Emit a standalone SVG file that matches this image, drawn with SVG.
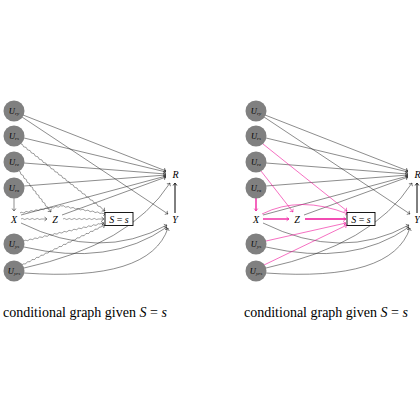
<svg xmlns="http://www.w3.org/2000/svg" width="420" height="420" viewBox="0 0 420 420">
<style>
text{font-family:"Liberation Serif","DejaVu Serif",serif;fill:#000}
.m{font-style:italic;font-size:10px}
.u{font-style:italic;font-size:8.5px}
.sub{font-size:5px}
.e{fill:none;stroke:#1a1a1a;stroke-width:0.5}
.th{fill:none;stroke:#000;stroke-width:1}
.w{fill:none;stroke:#333;stroke-width:0.45}
.p{fill:none;stroke:#ee1199;stroke-width:0.6}
.pt{fill:none;stroke:#ee1199;stroke-width:1.3}
.n{fill:#808080}
.box{fill:#fff;stroke:#000;stroke-width:0.9}
.cap{font-size:14px}
</style>
<defs>
<marker id="ah" viewBox="-3 -3 4 6" refX="0" refY="0" markerWidth="4" markerHeight="6" markerUnits="userSpaceOnUse" orient="auto">
<path d="M-2.4,-2.2 C-1.6,-0.8 -0.6,-0.2 0,0 C-0.6,0.2 -1.6,0.8 -2.4,2.2" fill="none" stroke="#1a1a1a" stroke-width="0.55"/>
</marker>
<marker id="ahp" viewBox="-3 -3 4 6" refX="0" refY="0" markerWidth="4" markerHeight="6" markerUnits="userSpaceOnUse" orient="auto">
<path d="M-2.4,-2.2 C-1.6,-0.8 -0.6,-0.2 0,0 C-0.6,0.2 -1.6,0.8 -2.4,2.2" fill="none" stroke="#ee1199" stroke-width="0.6"/>
</marker>
<marker id="aht" viewBox="-3 -3 4 6" refX="0" refY="0" markerWidth="4" markerHeight="6" markerUnits="userSpaceOnUse" orient="auto">
<path d="M-2.4,-2.2 C-1.6,-0.8 -0.6,-0.2 0,0 C-0.6,0.2 -1.6,0.8 -2.4,2.2" fill="none" stroke="#000" stroke-width="0.8"/>
</marker>
</defs>

<!-- LEFT GRAPH -->
<g id="left-connectors">
<path class="e" marker-end="url(#ah)" d="M23,115 L166,171"/>
<path class="e" marker-end="url(#ah)" d="M22,117 L168,214"/>
<path class="e" marker-end="url(#ah)" d="M24,138 L166,172"/>
<path class="e" marker-end="url(#ah)" d="M24,163 L166,174"/>
<path class="e" marker-end="url(#ah)" d="M24,186 L166,175"/>
<path class="e" marker-end="url(#ah)" d="M21,215 L166,176"/>
<path class="e" marker-end="url(#ah)" d="M62,215 L166,177"/>
<path class="th" marker-end="url(#aht)" d="M175,213 L175,183"/>
<path class="e" marker-end="url(#ah)" d="M24,268 Q130,245 170,183"/>
<path class="e" marker-end="url(#ah)" d="M21,223 Q100,262 167,225"/>
<path class="e" marker-end="url(#ah)" d="M24,247 Q110,267 167,227"/>
<path class="e" marker-end="url(#ah)" d="M24,273 Q150,282 168,228"/>
<path class="e" marker-end="url(#ah)" d="M14,198 L14,211"/>
<path class="w" marker-end="url(#ah)" transform="translate(21,144) rotate(38.57)" d="M0,0 q1.25,-1.1 2.5,0 t2.5,0 t2.5,0 t2.5,0 t2.5,0 t2.5,0 t2.5,0 t2.5,0 t2.5,0 t2.5,0 t2.5,0 t2.5,0 t2.5,0 t2.5,0 t2.5,0 t2.5,0 t2.5,0 t2.5,0 t2.5,0 t2.5,0 t2.5,0 t2.5,0 t2.5,0 t2.5,0 t2.5,0 t2.5,0 t2.5,0 t2.5,0 t2.5,0 t2.5,0 t2.5,0 t2.5,0 t2.5,0 t2.5,0 t2.5,0 t2.5,0 t2.5,0 t2.5,0 t2.5,0 t2.5,0 t2.5,0 L107.4,0"/>
<path class="w" marker-end="url(#ah)" transform="translate(19,171) rotate(52.03)" d="M0,0 q1.25,-1.1 2.5,0 t2.5,0 t2.5,0 t2.5,0 t2.5,0 t2.5,0 t2.5,0 t2.5,0 t2.5,0 t2.5,0 t2.5,0 t2.5,0 t2.5,0 t2.5,0 t2.5,0 t2.5,0 t2.5,0 t2.5,0 t2.5,0 L52,0"/>
<path class="w" marker-end="url(#ah)" transform="translate(21,219)" d="M0,0 q1.25,-1.1 2.5,0 t2.5,0 t2.5,0 t2.5,0 t2.5,0 t2.5,0 t2.5,0 t2.5,0 L26,0"/>
<path class="w" transform="translate(20,213) rotate(-9.46)" d="M0,0 q1.25,-1.1 2.5,0 t2.5,0 t2.5,0 t2.5,0 t2.5,0 t2.5,0 t2.5,0 t2.5,0 t2.5,0 t2.5,0 t2.5,0 t2.5,0 t2.5,0 t2.5,0 t2.5,0 t2.5,0 t2.5,0"/>
<path class="w" marker-end="url(#ah)" transform="translate(62,206) rotate(10.3)" d="M0,0 q1.25,-1.1 2.5,0 t2.5,0 t2.5,0 t2.5,0 t2.5,0 t2.5,0 t2.5,0 t2.5,0 t2.5,0 t2.5,0 t2.5,0 t2.5,0 t2.5,0 t2.5,0 t2.5,0 t2.5,0 L44.7,0"/>
<path class="w" marker-end="url(#ah)" transform="translate(63,219)" d="M0,0 q1.25,-1.1 2.5,0 t2.5,0 t2.5,0 t2.5,0 t2.5,0 t2.5,0 t2.5,0 t2.5,0 t2.5,0 t2.5,0 t2.5,0 t2.5,0 t2.5,0 t2.5,0 L41,0"/>
<path class="w" marker-end="url(#ah)" transform="translate(24,241) rotate(-12.68)" d="M0,0 q1.25,-1.1 2.5,0 t2.5,0 t2.5,0 t2.5,0 t2.5,0 t2.5,0 t2.5,0 t2.5,0 t2.5,0 t2.5,0 t2.5,0 t2.5,0 t2.5,0 t2.5,0 t2.5,0 t2.5,0 t2.5,0 t2.5,0 t2.5,0 t2.5,0 t2.5,0 t2.5,0 t2.5,0 t2.5,0 t2.5,0 t2.5,0 t2.5,0 t2.5,0 t2.5,0 t2.5,0 t2.5,0 L82,0"/>
<path class="w" marker-end="url(#ah)" transform="translate(22,265) rotate(-25.73)" d="M0,0 q1.25,-1.1 2.5,0 t2.5,0 t2.5,0 t2.5,0 t2.5,0 t2.5,0 t2.5,0 t2.5,0 t2.5,0 t2.5,0 t2.5,0 t2.5,0 t2.5,0 t2.5,0 t2.5,0 t2.5,0 t2.5,0 t2.5,0 t2.5,0 t2.5,0 t2.5,0 t2.5,0 t2.5,0 t2.5,0 t2.5,0 t2.5,0 t2.5,0 t2.5,0 t2.5,0 t2.5,0 t2.5,0 t2.5,0 t2.5,0 t2.5,0 t2.5,0 L92.1,0"/>
</g>
<g id="L-Ury"><circle class="n" cx="14" cy="111" r="10.5"/><text class="u" x="14" y="113.5" text-anchor="middle">U<tspan class="sub" dy="1.3">ry</tspan></text></g>
<g id="L-Urs"><circle class="n" cx="14" cy="136" r="10.5"/><text class="u" x="14" y="138.5" text-anchor="middle">U<tspan class="sub" dy="1.3">rs</tspan></text></g>
<g id="L-Urz"><circle class="n" cx="14" cy="162" r="10.5"/><text class="u" x="14" y="164.5" text-anchor="middle">U<tspan class="sub" dy="1.3">rz</tspan></text></g>
<g id="L-Urx"><circle class="n" cx="14" cy="188" r="10.5"/><text class="u" x="14" y="190.5" text-anchor="middle">U<tspan class="sub" dy="1.3">rx</tspan></text></g>
<g id="L-Uys"><circle class="n" cx="14" cy="244" r="10.5"/><text class="u" x="14" y="246.5" text-anchor="middle">U<tspan class="sub" dy="1.3">ys</tspan></text></g>
<g id="L-Uyrs"><circle class="n" cx="14" cy="271" r="10.5"/><text class="u" x="14" y="273.5" text-anchor="middle">U<tspan class="sub" dy="1.3">yrs</tspan></text></g>
<g id="L-X"><text class="m" x="14" y="222.5" text-anchor="middle">X</text></g>
<g id="L-Z"><text class="m" x="55" y="222.5" text-anchor="middle">Z</text></g>
<g id="L-S"><rect class="box" x="105" y="212.5" width="28" height="13"/><text class="m" x="119" y="222.5" text-anchor="middle">S <tspan font-style="normal">=</tspan> s</text></g>
<g id="L-R"><text class="m" x="175.5" y="177.5" text-anchor="middle">R</text></g>
<g id="L-Y"><text class="m" x="175" y="222.5" text-anchor="middle">Y</text></g>
<text class="cap" x="3" y="317">conditional graph given <tspan font-style="italic">S</tspan> = <tspan font-style="italic">s</tspan></text>

<!-- RIGHT GRAPH -->
<g transform="translate(242,0)">
<g id="right-connectors">
<path class="e" marker-end="url(#ah)" d="M23,115 L166,171"/>
<path class="e" marker-end="url(#ah)" d="M22,117 L168,214"/>
<path class="e" marker-end="url(#ah)" d="M24,138 L166,172"/>
<path class="e" marker-end="url(#ah)" d="M24,163 L166,174"/>
<path class="e" marker-end="url(#ah)" d="M24,186 L166,175"/>
<path class="e" marker-end="url(#ah)" d="M21,215 L166,176"/>
<path class="e" marker-end="url(#ah)" d="M62,215 L166,177"/>
<path class="th" marker-end="url(#aht)" d="M175,213 L175,183"/>
<path class="e" marker-end="url(#ah)" d="M24,268 Q130,245 170,183"/>
<path class="e" marker-end="url(#ah)" d="M21,223 Q100,262 167,225"/>
<path class="e" marker-end="url(#ah)" d="M24,247 Q110,267 167,227"/>
<path class="e" marker-end="url(#ah)" d="M24,273 Q150,282 168,228"/>
<path class="pt" marker-end="url(#ahp)" d="M14,198 L14,211"/>
<path class="p" marker-end="url(#ahp)" d="M21,144 L105,211"/>
<path class="p" marker-end="url(#ahp)" d="M19,171 L51,212"/>
<path class="pt" marker-end="url(#ahp)" d="M21,219 L47,219"/>
<path class="p" marker-end="url(#ahp)" d="M20,214 Q58,195 106,214"/>
<path class="pt" marker-end="url(#ahp)" d="M63,219 L104,219"/>
<path class="p" marker-end="url(#ahp)" d="M24,241 L104,223"/>
<path class="p" marker-end="url(#ahp)" d="M22,265 L105,225"/>
</g>
<g id="R-Ury"><circle class="n" cx="14" cy="111" r="10.5"/><text class="u" x="14" y="113.5" text-anchor="middle">U<tspan class="sub" dy="1.3">ry</tspan></text></g>
<g id="R-Urs"><circle class="n" cx="14" cy="136" r="10.5"/><text class="u" x="14" y="138.5" text-anchor="middle">U<tspan class="sub" dy="1.3">rs</tspan></text></g>
<g id="R-Urz"><circle class="n" cx="14" cy="162" r="10.5"/><text class="u" x="14" y="164.5" text-anchor="middle">U<tspan class="sub" dy="1.3">rz</tspan></text></g>
<g id="R-Urx"><circle class="n" cx="14" cy="188" r="10.5"/><text class="u" x="14" y="190.5" text-anchor="middle">U<tspan class="sub" dy="1.3">rx</tspan></text></g>
<g id="R-Uys"><circle class="n" cx="14" cy="244" r="10.5"/><text class="u" x="14" y="246.5" text-anchor="middle">U<tspan class="sub" dy="1.3">ys</tspan></text></g>
<g id="R-Uyrs"><circle class="n" cx="14" cy="271" r="10.5"/><text class="u" x="14" y="273.5" text-anchor="middle">U<tspan class="sub" dy="1.3">yrs</tspan></text></g>
<g id="R-X"><text class="m" x="14" y="222.5" text-anchor="middle">X</text></g>
<g id="R-Z"><text class="m" x="55" y="222.5" text-anchor="middle">Z</text></g>
<g id="R-S"><rect class="box" x="105" y="212.5" width="28" height="13"/><text class="m" x="119" y="222.5" text-anchor="middle">S <tspan font-style="normal">=</tspan> s</text></g>
<g id="R-R"><text class="m" x="175.5" y="177.5" text-anchor="middle">R</text></g>
<g id="R-Y"><text class="m" x="175" y="222.5" text-anchor="middle">Y</text></g>
<text class="cap" x="2" y="317">conditional graph given <tspan font-style="italic">S</tspan> = <tspan font-style="italic">s</tspan></text>
</g>
</svg>
